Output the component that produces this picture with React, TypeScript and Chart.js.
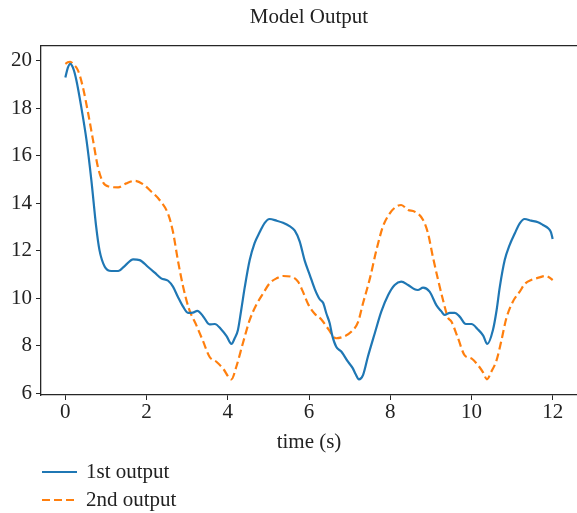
import React, { useEffect, useRef } from "react";
import { Chart, registerables } from "chart.js";

Chart.register(...registerables);

// ---- data ----
const TITLE = "Model Output";
const X_LABEL = "time (s)";
const SERIES_LABELS = ["1st output", "2nd output"];

const xTicks = [0, 2, 4, 6, 8, 10, 12];
const yTicks = [6, 8, 10, 12, 14, 16, 18, 20];

const blueT = [
  0.0, 0.06, 0.12, 0.2, 0.27, 0.39, 0.52, 0.64, 0.76, 0.84, 0.97, 1.13, 1.3, 1.46, 1.67, 1.83,
  2.03, 2.2, 2.36, 2.53, 2.65, 2.77, 2.9, 3.02, 3.14, 3.25, 3.39, 3.55, 3.68, 3.84, 3.97, 4.09,
  4.17, 4.25, 4.33, 4.42, 4.54, 4.66, 4.79, 4.91, 5.03, 5.2, 5.36, 5.52, 5.65, 5.77, 5.89, 6.02,
  6.14, 6.26, 6.35, 6.43, 6.51, 6.57, 6.67, 6.8, 6.96, 7.08, 7.15, 7.23, 7.33, 7.45, 7.62, 7.78,
  7.95, 8.11, 8.27, 8.44, 8.6, 8.68, 8.81, 8.97, 9.14, 9.26, 9.34, 9.47, 9.59, 9.71, 9.86, 10.0,
  10.16, 10.29, 10.39, 10.53, 10.62, 10.7, 10.82, 10.94, 11.07, 11.19, 11.31, 11.47, 11.64,
  11.76, 11.89, 11.96, 12.0,
];
const blueV = [
  19.3, 19.7, 19.87, 19.65, 19.19, 18.07, 16.67, 14.98, 13.0, 12.03, 11.33, 11.15, 11.15, 11.36,
  11.64, 11.61, 11.33, 11.08, 10.84, 10.74, 10.49, 10.07, 9.65, 9.39, 9.4, 9.47, 9.25, 8.9, 8.92,
  8.69, 8.41, 8.08, 8.32, 8.67, 9.5, 10.49, 11.61, 12.32, 12.8, 13.18, 13.34, 13.27, 13.18, 13.04,
  12.85, 12.4, 11.61, 10.98, 10.4, 9.97, 9.8, 9.35, 8.95, 8.45, 7.96, 7.75, 7.33, 7.05, 6.8, 6.59,
  6.77, 7.54, 8.53, 9.44, 10.14, 10.56, 10.7, 10.56, 10.38, 10.35, 10.45, 10.28, 9.7, 9.45, 9.3,
  9.39, 9.39, 9.23, 8.92, 8.92, 8.69, 8.43, 8.08, 8.67, 9.5, 10.49, 11.61, 12.24, 12.74, 13.16,
  13.34, 13.27, 13.2, 13.09, 12.95, 12.78, 12.5,
];

const orangeT = [
  0.0, 0.06, 0.12, 0.2, 0.31, 0.43, 0.56, 0.68, 0.8, 0.93, 1.09, 1.3, 1.5, 1.71, 1.91, 2.1, 2.32,
  2.53, 2.65, 2.77, 2.9, 3.04, 3.23, 3.39, 3.55, 3.72, 3.88, 4.09, 4.21, 4.37, 4.54, 4.7, 4.87,
  5.03, 5.2, 5.36, 5.57, 5.73, 5.85, 5.98, 6.14, 6.31, 6.47, 6.67, 6.88, 7.04, 7.21, 7.33, 7.5,
  7.66, 7.82, 7.99, 8.15, 8.27, 8.44, 8.6, 8.81, 8.93, 9.05, 9.18, 9.3, 9.42, 9.51, 9.67, 9.83,
  10.0, 10.16, 10.29, 10.38, 10.49, 10.62, 10.74, 10.86, 11.02, 11.19, 11.31, 11.47, 11.68, 11.8,
  11.92, 12.0,
];
const orangeV = [
  19.87, 19.94, 19.96, 19.85, 19.6, 18.9, 17.8, 16.67, 15.54, 14.88, 14.7, 14.67, 14.84, 14.95,
  14.81, 14.52, 14.14, 13.55, 12.8, 11.61, 10.49, 9.58, 8.85, 8.2, 7.54, 7.33, 7.05, 6.59, 7.12,
  8.1, 9.09, 9.72, 10.21, 10.63, 10.84, 10.94, 10.91, 10.7, 10.28, 9.75, 9.35, 9.1, 8.72, 8.32,
  8.41, 8.59, 9.01, 9.79, 10.84, 12.03, 13.02, 13.58, 13.86, 13.93, 13.72, 13.65, 13.3, 12.74,
  11.75, 10.77, 9.93, 9.2, 9.01, 8.32, 7.61, 7.47, 7.19, 6.87, 6.59, 6.91, 7.4, 8.24, 9.16, 9.86,
  10.28, 10.6, 10.77, 10.88, 10.94, 10.88, 10.77,
];

const X_MIN = -0.6;
const X_MAX = 12.6;
const Y_MIN = 5.93;
const Y_MAX = 20.64;

// ---- styles ----
const FONT_FAMILY = "'Liberation Serif', 'DejaVu Serif', serif";
const FONT_SIZE = 21;
const TEXT_COLOR = "#222222";
const AXIS_COLOR = "#262626";
const BLUE = "#1f77b4";
const ORANGE = "#ff7f0e";

const framePlugin = {
  id: "frameAndLegend",
  afterDraw(chart: any) {
    const { ctx, chartArea } = chart;
    ctx.save();
    // top spine
    ctx.strokeStyle = AXIS_COLOR;
    ctx.lineWidth = 1.3;
    ctx.beginPath();
    ctx.moveTo(chartArea.left - 0.65, chartArea.top);
    ctx.lineTo(chartArea.right + 2, chartArea.top);
    ctx.stroke();

    // legend (stacked, lower left)
    const rows = [472, 500];
    chart.data.datasets.forEach((ds: any, i: number) => {
      const y = rows[i];
      ctx.strokeStyle = ds.borderColor;
      ctx.lineWidth = 2;
      ctx.setLineDash(ds.borderDash || []);
      ctx.beginPath();
      ctx.moveTo(42, y);
      ctx.lineTo(77, y);
      ctx.stroke();
      ctx.setLineDash([]);
      ctx.fillStyle = TEXT_COLOR;
      ctx.font = `${FONT_SIZE}px ${FONT_FAMILY}`;
      ctx.textBaseline = "middle";
      ctx.textAlign = "left";
      ctx.fillText(ds.label, 86, y);
    });
    ctx.restore();
  },
};

export default function App() {
  const ref = useRef<HTMLCanvasElement | null>(null);

  useEffect(() => {
    if (!ref.current) return;
    const chart = new Chart(ref.current, {
      type: "line",
      data: {
        datasets: [
          {
            label: SERIES_LABELS[0],
            data: blueT.map((t, i) => ({ x: t, y: blueV[i] })),
            borderColor: BLUE,
            borderWidth: 2.2,
            pointRadius: 0,
            cubicInterpolationMode: "monotone",
            fill: false,
          },
          {
            label: SERIES_LABELS[1],
            data: orangeT.map((t, i) => ({ x: t, y: orangeV[i] })),
            borderColor: ORANGE,
            borderWidth: 2.2,
            borderDash: [8, 4],
            pointRadius: 0,
            cubicInterpolationMode: "monotone",
            fill: false,
          },
        ],
      },
      options: {
        animation: false,
        responsive: false,
        devicePixelRatio: 1,
        layout: { padding: { top: 0, left: 0, right: 0, bottom: 0 } },
        plugins: {
          legend: { display: false },
          tooltip: { enabled: false },
          title: {
            display: true,
            text: TITLE,
            fullSize: false,
            color: TEXT_COLOR,
            font: { family: FONT_FAMILY, size: FONT_SIZE, weight: "normal" },
            padding: { top: 4.5, bottom: 15.9 },
          },
        },
        scales: {
          x: {
            type: "linear",
            min: X_MIN,
            max: X_MAX,
            afterBuildTicks: (scale: any) => {
              scale.ticks = xTicks.map((v) => ({ value: v }));
            },
            afterFit: (scale: any) => {
              scale.height = 118;
            },
            grid: {
              drawOnChartArea: false,
              drawTicks: true,
              tickLength: 5,
              color: AXIS_COLOR,
              lineWidth: 1,
            },
            border: { display: true, color: AXIS_COLOR, width: 1.3 },
            ticks: {
              color: TEXT_COLOR,
              font: { family: FONT_FAMILY, size: FONT_SIZE },
              padding: 0,
              maxRotation: 0,
              callback: (v: any) => String(v),
            },
            title: {
              display: true,
              text: X_LABEL,
              color: TEXT_COLOR,
              font: { family: FONT_FAMILY, size: FONT_SIZE },
              padding: { top: 0, bottom: 58 },
            },
          },
          y: {
            type: "linear",
            min: Y_MIN,
            max: Y_MAX,
            afterBuildTicks: (scale: any) => {
              scale.ticks = yTicks.map((v) => ({ value: v }));
            },
            afterFit: (scale: any) => {
              scale.width = 41;
            },
            grid: {
              drawOnChartArea: false,
              drawTicks: true,
              tickLength: 5,
              color: AXIS_COLOR,
              lineWidth: 1,
            },
            border: { display: true, color: AXIS_COLOR, width: 1.3 },
            ticks: {
              color: TEXT_COLOR,
              font: { family: FONT_FAMILY, size: FONT_SIZE },
              padding: 4,
              callback: (v: any) => String(v),
            },
          },
        },
      },
      plugins: [framePlugin],
    });
    return () => chart.destroy();
  }, []);

  return (
    <div style={{ position: "fixed", left: 0, top: 0, width: 577, height: 513, background: "#fff" }}>
      <canvas ref={ref} width={577} height={513} style={{ display: "block" }} />
    </div>
  );
}
